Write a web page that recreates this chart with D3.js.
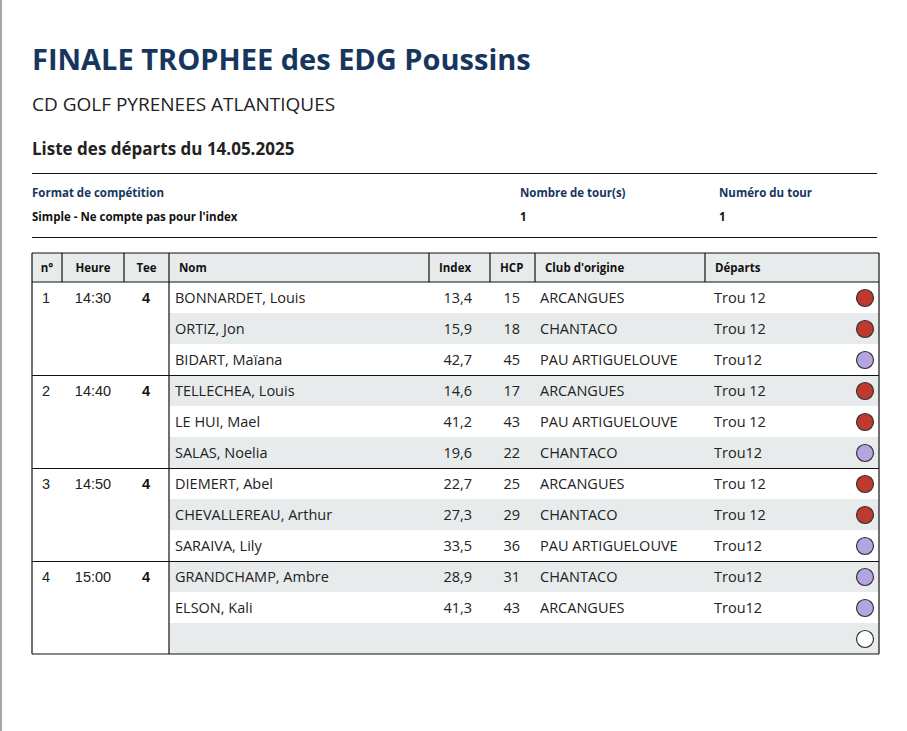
<!DOCTYPE html>
<html><head><meta charset="utf-8">
<script src="https://cdn.jsdelivr.net/npm/d3@7"></script>
<style>body{margin:0;background:#fff}svg{display:block}</style>
</head><body>
<script>
const title = "FINALE TROPHEE des EDG Poussins";
const subtitle = "CD GOLF PYRENEES ATLANTIQUES";
const listTitle = "Liste des départs du 14.05.2025";
const infoLabels = ["Format de compétition","Nombre de tour(s)","Numéro du tour"];
const infoValues = ["Simple - Ne compte pas pour l'index","1","1"];
const headers = ["n°","Heure","Tee","Nom","Index","HCP","Club d'origine","Départs"];
const groups = [
  {n:"1",heure:"14:30",tee:"4",size:3},
  {n:"2",heure:"14:40",tee:"4",size:3},
  {n:"3",heure:"14:50",tee:"4",size:3},
  {n:"4",heure:"15:00",tee:"4",size:3}
];
const names = ["BONNARDET, Louis","ORTIZ, Jon","BIDART, Maïana","TELLECHEA, Louis","LE HUI, Mael","SALAS, Noelia","DIEMERT, Abel","CHEVALLEREAU, Arthur","SARAIVA, Lily","GRANDCHAMP, Ambre","ELSON, Kali",""];
const indexes = ["13,4","15,9","42,7","14,6","41,2","19,6","22,7","27,3","33,5","28,9","41,3",""];
const hcps = ["15","18","45","17","43","22","25","29","36","31","43",""];
const clubs = ["ARCANGUES","CHANTACO","PAU ARTIGUELOUVE","ARCANGUES","PAU ARTIGUELOUVE","CHANTACO","ARCANGUES","CHANTACO","PAU ARTIGUELOUVE","CHANTACO","ARCANGUES",""];
const departs = ["Trou 12","Trou 12","Trou12","Trou 12","Trou 12","Trou12","Trou 12","Trou 12","Trou12","Trou12","Trou12",""];
const colours = ["red","red","purple","red","red","purple","red","red","purple","purple","purple","empty"];

const W=907,H=731;
const svg=d3.select("body").append("svg").attr("width",W).attr("height",H);
const F="'Open Sans', sans-serif", blue="#17365d";
svg.append("line").attr("x1",1).attr("x2",1).attr("y1",0).attr("y2",H).attr("stroke","#888").attr("stroke-width",1.5);
svg.append("text").attr("x",32).attr("y",70).attr("font-family",F).attr("font-weight",700).attr("font-size",29).attr("fill",blue).text(title);
svg.append("text").attr("x",32).attr("y",111).attr("font-family",F).attr("font-size",19).attr("fill","#222").text(subtitle);
svg.append("text").attr("x",32).attr("y",155).attr("font-family",F).attr("font-weight",700).attr("font-size",17).attr("fill","#222").text(listTitle);
[173.5,237.5].forEach(yy=>svg.append("line").attr("x1",32).attr("x2",877).attr("y1",yy).attr("y2",yy).attr("stroke","#111"));
const infoX=[32,520,719];
infoLabels.forEach((l,i)=>{
  svg.append("text").attr("x",infoX[i]).attr("y",197).attr("font-family",F).attr("font-weight",700).attr("font-size",11.5).attr("fill",blue).text(l);
  svg.append("text").attr("x",infoX[i]).attr("y",221).attr("font-family",F).attr("font-weight",700).attr("font-size",11.5).attr("fill","#111").text(infoValues[i]);
});
const colX=[32,62,124,169,429,490,535,705,879];
const tTop=253, hh=29, rh=31, nRows=names.length;
const y=d3.scaleLinear().domain([0,nRows]).range([tTop+hh,tTop+hh+rh*nRows]);
svg.append("rect").attr("x",32).attr("y",tTop).attr("width",847).attr("height",hh).attr("fill","#e8ebec");
headers.forEach((h,i)=>{
  const cx = i<3 ? (colX[i]+colX[i+1])/2 : colX[i]+10;
  svg.append("text").attr("x",cx).attr("y",tTop+19).attr("text-anchor",i<3?"middle":"start")
   .attr("font-family",F).attr("font-weight",700).attr("font-size",11.5).attr("fill","#111").text(h);
});
d3.range(nRows).forEach(i=>{ if(i%2==1) svg.append("rect").attr("x",169).attr("y",y(i)).attr("width",710).attr("height",rh).attr("fill","#e8ebec"); });
const tF="'Open Sans', sans-serif";
d3.range(nRows).forEach(i=>{
  const ty=y(i)+21;
  svg.append("text").attr("x",175).attr("y",ty).attr("font-family",tF).attr("font-size",14.5).attr("fill","#222").text(names[i]);
  svg.append("text").attr("x",472).attr("y",ty).attr("text-anchor","end").attr("font-family",tF).attr("font-size",14.5).attr("fill","#222").text(indexes[i]);
  svg.append("text").attr("x",520).attr("y",ty).attr("text-anchor","end").attr("font-family",tF).attr("font-size",14.5).attr("fill","#222").text(hcps[i]);
  svg.append("text").attr("x",540).attr("y",ty).attr("font-family",tF).attr("font-size",14.5).attr("fill","#222").text(clubs[i]);
  svg.append("text").attr("x",714).attr("y",ty).attr("font-family",tF).attr("font-size",14.5).attr("fill","#222").text(departs[i]);
  const fill={red:"#c0392f",purple:"#b4a4e2",empty:"#fff"}[colours[i]];
  svg.append("circle").attr("cx",865).attr("cy",y(i)+16).attr("r",8.5).attr("fill",fill).attr("stroke","#333").attr("stroke-width",1.2);
});
let r0=0;
groups.forEach(g=>{
  const ty=y(r0)+21, LF="'Liberation Sans', Arial, sans-serif";
  svg.append("text").attr("x",46).attr("y",ty).attr("text-anchor","middle").attr("font-family",LF).attr("font-size",14.5).attr("fill","#222").text(g.n);
  svg.append("text").attr("x",93).attr("y",ty).attr("text-anchor","middle").attr("font-family",LF).attr("font-size",14.5).attr("fill","#222").text(g.heure);
  svg.append("text").attr("x",146).attr("y",ty).attr("text-anchor","middle").attr("font-family",LF).attr("font-weight",700).attr("font-size",14.5).attr("fill","#111").text(g.tee);
  r0+=g.size;
  if(r0<nRows) svg.append("line").attr("x1",32).attr("x2",879).attr("y1",y(r0)+.5).attr("y2",y(r0)+.5).attr("stroke","#111");
});
const L=(x1,y1,x2,y2)=>svg.append("line").attr("x1",x1).attr("y1",y1).attr("x2",x2).attr("y2",y2).attr("stroke","#111").attr("stroke-width",1.2);
L(32,tTop,879,tTop); L(32,tTop+hh,879,tTop+hh); L(32,y(nRows),879,y(nRows));
L(32,tTop,32,y(nRows)); L(879,tTop,879,y(nRows)); L(169,tTop,169,y(nRows));
[62,124,429,490,535,705].forEach(x=>L(x,tTop,x,tTop+hh));
</script>
</body></html>
